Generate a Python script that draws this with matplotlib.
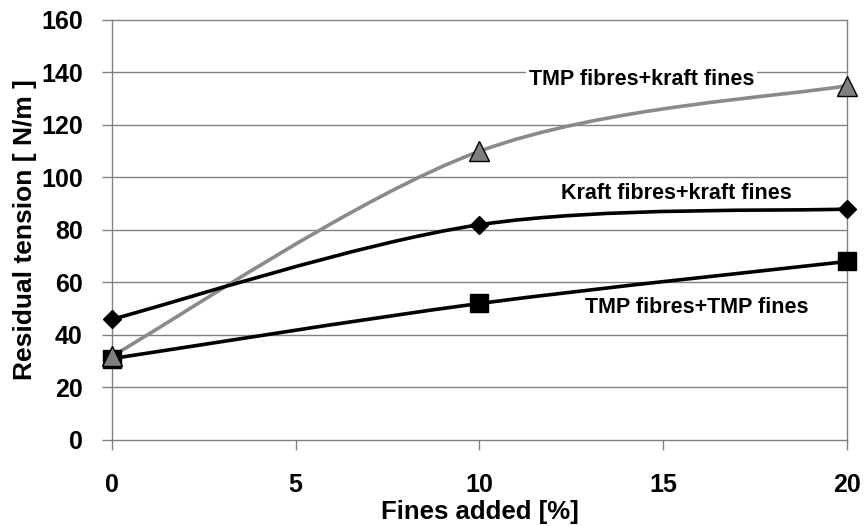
import matplotlib
matplotlib.use("Agg")
import matplotlib.pyplot as plt
from matplotlib.path import Path
from matplotlib.patches import PathPatch
import numpy as np

plt.rcParams['font.family'] = ['Liberation Sans', 'DejaVu Sans']
plt.rcParams['font.weight'] = 'bold'

fines = [0, 10, 20]
tmp_kraft = [32, 110, 135]
kraft_kraft = [46, 82, 88]
tmp_tmp = [31, 52, 68]
labels = ["TMP fibres+kraft fines", "Kraft fibres+kraft fines", "TMP fibres+TMP fines"]
xticks = [0, 5, 10, 15, 20]
yticks = [0, 20, 40, 60, 80, 100, 120, 140, 160]


def smooth_path(xs, ys):
    pts = np.column_stack([xs, ys]).astype(float)
    n = len(pts)
    verts = [pts[0]]
    codes = [Path.MOVETO]
    for i in range(n - 1):
        p0 = pts[max(i - 1, 0)]
        p1 = pts[i]
        p2 = pts[i + 1]
        p3 = pts[min(i + 2, n - 1)]
        c1 = p1 + (p2 - p0) / 6.0
        c2 = p2 - (p3 - p1) / 6.0
        verts += [c1, c2, p2]
        codes += [Path.CURVE4] * 3
    return Path(verts, codes)


fig = plt.figure(figsize=(8.64, 5.26), dpi=100)
ax = fig.add_axes([0.1296, 0.1635, 0.8507, 0.7985])

grid_c = '#808080'
for y in yticks[1:-1]:
    ax.axhline(y, color=grid_c, lw=1.0, zorder=0)

series = [
    (tmp_kraft, '#8a8a8a', '^', '#7f7f7f', 14, 6),
    (kraft_kraft, 'black', 'D', 'black', 9.5, 4),
    (tmp_tmp, 'black', 's', 'black', 12.5, 4),
]
for ys, col, mk, mfc, ms, mz in series:
    ax.add_patch(PathPatch(smooth_path(fines, ys), facecolor='none', edgecolor=col, lw=2.6, zorder=3))
    ax.plot(fines, ys, linestyle='none', marker=mk, markersize=ms, markerfacecolor=mfc,
            markeredgecolor='black', markeredgewidth=1.0, zorder=mz, clip_on=False)

bbox = dict(facecolor='white', edgecolor='none', pad=2)
fs_ann = 15.5
ax.text(14.42, 137.3, labels[0], ha='center', va='center', fontsize=fs_ann, fontweight='bold', bbox=bbox, zorder=2)
ax.text(15.35, 93.8, labels[1], ha='center', va='center', fontsize=fs_ann, fontweight='bold', bbox=bbox, zorder=2)
ax.text(15.9, 50.3, labels[2], ha='center', va='center', fontsize=fs_ann, fontweight='bold', bbox=bbox, zorder=2)

ax.set_xlim(0, 20)
ax.set_ylim(0, 160)
ax.set_xticks(xticks)
ax.set_yticks(yticks)
ax.tick_params(axis='both', labelsize=18, colors=grid_c, labelcolor='black', length=7, width=1.0)
ax.tick_params(axis='x', pad=17)
ax.tick_params(axis='y', pad=14)
for lab in ax.get_xticklabels() + ax.get_yticklabels():
    lab.set_fontweight('bold')
for s in ax.spines.values():
    s.set_color(grid_c)
    s.set_linewidth(1.0)

ax.set_xlabel('Fines added [%]', fontsize=18.5, fontweight='bold', labelpad=2)
ax.set_ylabel('Residual tension [ N/m ]', fontsize=19, fontweight='bold', labelpad=3)

fig.savefig('out.png', dpi=100)
